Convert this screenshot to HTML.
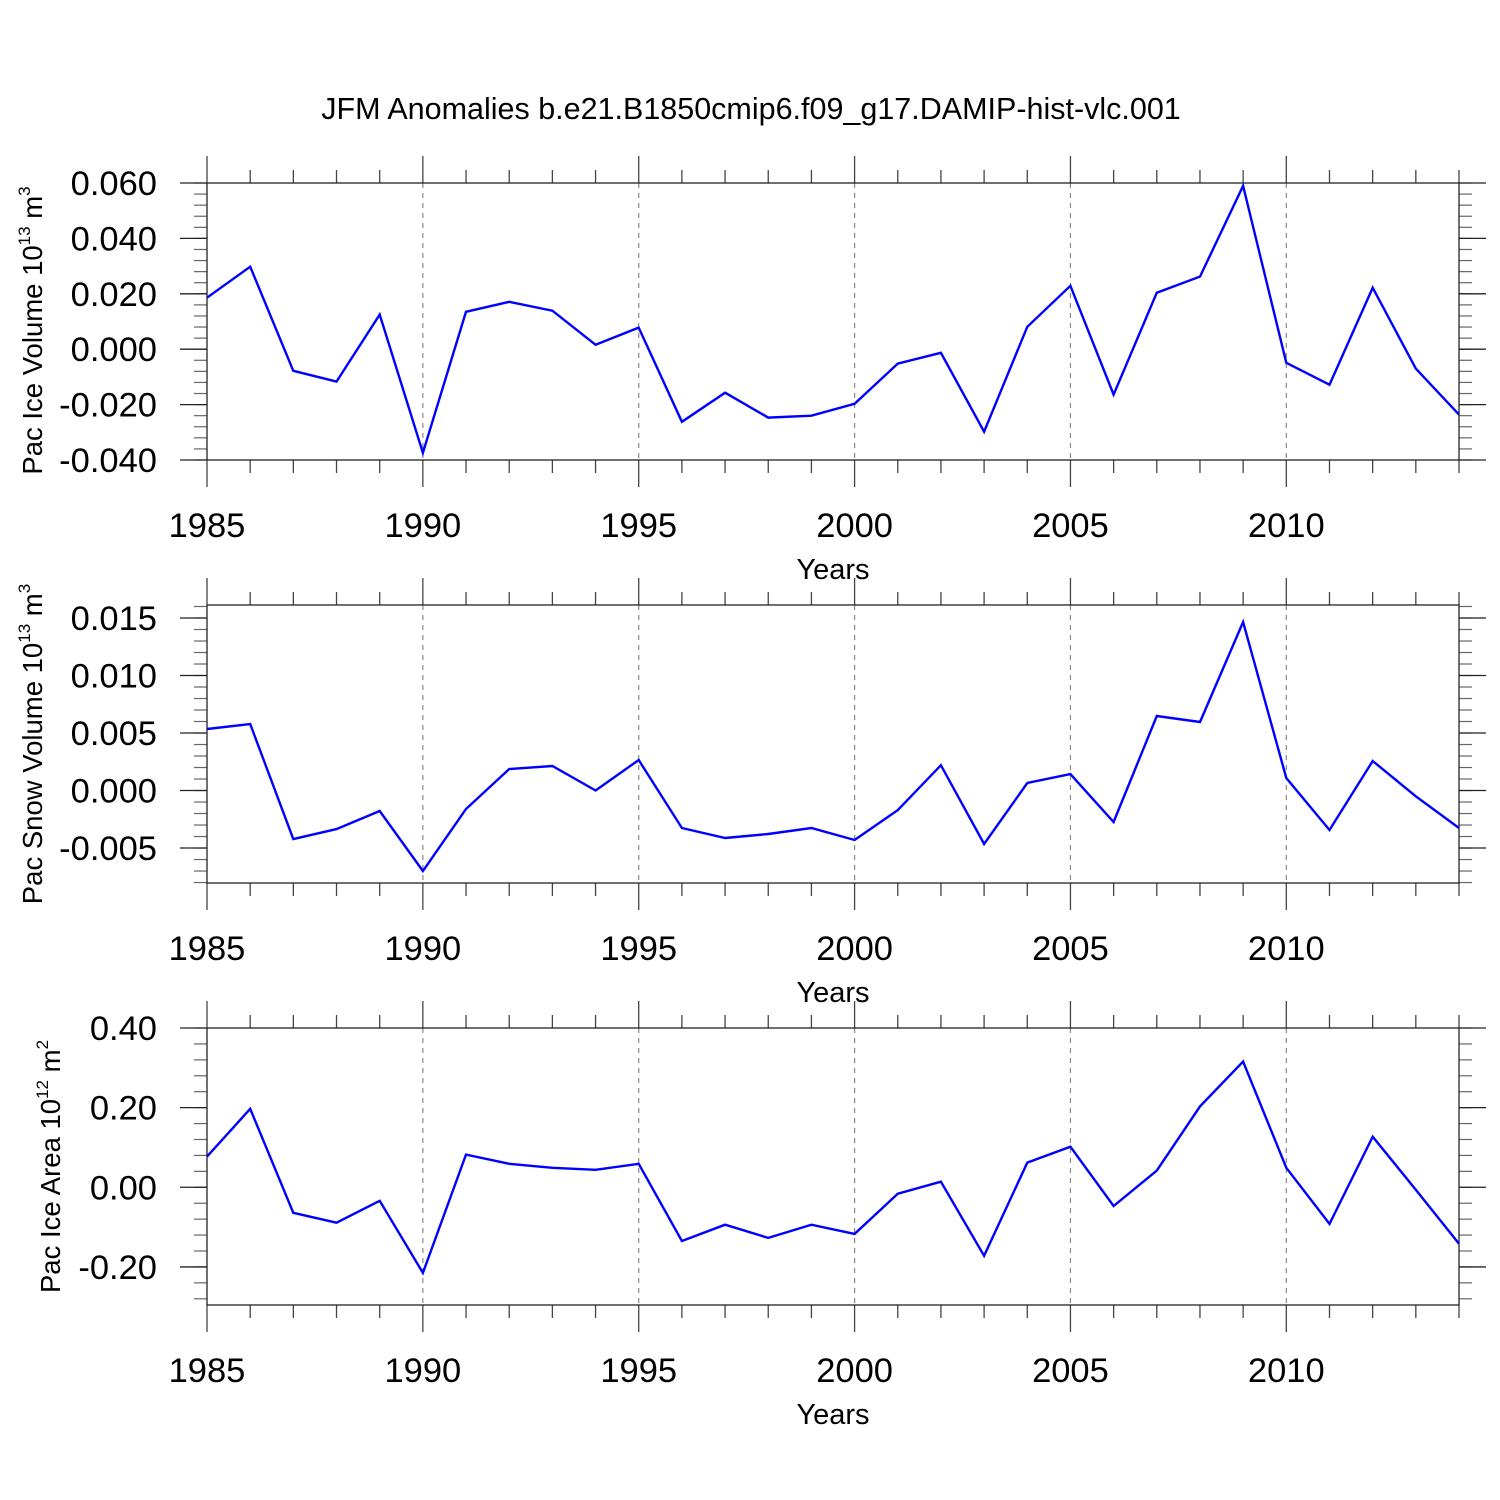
<!DOCTYPE html>
<html><head><meta charset="utf-8"><style>
html,body{margin:0;padding:0;background:#fff;}
svg{display:block;font-family:"Liberation Sans",Arial,sans-serif;}
</style></head><body>
<svg id="chart" width="1500" height="1500" viewBox="0 0 1500 1500">
<text x="751" y="119" font-size="30.5" text-anchor="middle">JFM Anomalies b.e21.B1850cmip6.f09_g17.DAMIP-hist-vlc.001</text>
</svg>
<script>
const years = [1985,1986,1987,1988,1989,1990,1991,1992,1993,1994,1995,1996,1997,1998,1999,2000,2001,2002,2003,2004,2005,2006,2007,2008,2009,2010,2011,2012,2013,2014];
const iceVolume = [0.0186,0.0298,-0.0078,-0.0117,0.0125,-0.0374,0.0135,0.0171,0.0139,0.0016,0.0078,-0.0262,-0.0157,-0.0247,-0.0240,-0.0197,-0.0052,-0.0013,-0.0298,0.0081,0.0229,-0.0164,0.0204,0.0262,0.0590,-0.0049,-0.0128,0.0222,-0.0070,-0.0236];
const snowVolume = [0.00535,0.00578,-0.00422,-0.00335,-0.00178,-0.0070,-0.00161,0.00187,0.00213,0.0000,0.00265,-0.00326,-0.00413,-0.00378,-0.00326,-0.0043,-0.0017,0.0022,-0.00465,0.00065,0.00143,-0.00274,0.00648,0.00596,0.01465,0.00109,-0.00343,0.00257,-0.0005,-0.00326];
const iceArea = [0.077,0.197,-0.064,-0.089,-0.034,-0.215,0.082,0.059,0.049,0.044,0.059,-0.135,-0.094,-0.127,-0.094,-0.117,-0.016,0.014,-0.172,0.062,0.102,-0.047,0.042,0.203,0.316,0.049,-0.092,0.127,-0.006,-0.142];
const xTicks = [1985,1990,1995,2000,2005,2010];
const iceVolTicks = [-0.04,-0.02,0,0.02,0.04,0.06];
const iceVolLabels = ["-0.040","-0.020","0.000","0.020","0.040","0.060"];
const snowTicks = [-0.005,0,0.005,0.010,0.015];
const snowLabels = ["-0.005","0.000","0.005","0.010","0.015"];
const areaTicks = [-0.2,0,0.2,0.4];
const areaLabels = ["-0.20","0.00","0.20","0.40"];

const NS="http://www.w3.org/2000/svg";
const svg=document.getElementById('chart');
function mk(tag,attrs,parent){const e=document.createElementNS(NS,tag);for(const k in attrs)e.setAttribute(k,attrs[k]);(parent||svg).appendChild(e);return e;}
const X0=207,X1=1459,XMIN=1985,XMAX=2014;
function xs(v){return X0+(v-XMIN)/(XMAX-XMIN)*(X1-X0);}

function panel(name,top,bot,ymin,ymax,ticks,labels,minorStep,data,titleParts){
  const g=mk('g',{});
  
  
  const ys=v=>bot-(v-ymin)/(ymax-ymin)*(bot-top);
  for(const t of xTicks.slice(1)){
    const l=mk('line',{x1:xs(t),x2:xs(t),y1:top,y2:bot,stroke:'#888','stroke-width':1.2,'stroke-dasharray':'5 5'},g);
    
    
  }
  for(let y=XMIN;y<=XMAX;y++){
    const major=(y%5===0);const len=major?27:13;
    mk('line',{x1:xs(y),x2:xs(y),y1:top-len,y2:top,stroke:'#444','stroke-width':1.3},g);
    mk('line',{x1:xs(y),x2:xs(y),y1:bot,y2:bot+len,stroke:'#444','stroke-width':1.3},g);
  }
  const start=Math.ceil(ymin/minorStep-1e-6);
  for(let i=start;i*minorStep<=ymax+1e-9;i++){
    const v=i*minorStep;const yy=ys(v);
    mk('line',{x1:X0-13,x2:X0,y1:yy,y2:yy,stroke:'#666','stroke-width':1.2},g);
    mk('line',{x1:X1,x2:X1+13,y1:yy,y2:yy,stroke:'#666','stroke-width':1.2},g);
  }
  ticks.forEach((t,i)=>{
    const yy=ys(t);
    mk('line',{x1:X0-27,x2:X0,y1:yy,y2:yy,stroke:'#222','stroke-width':1.3},g);
    mk('line',{x1:X1,x2:X1+27,y1:yy,y2:yy,stroke:'#222','stroke-width':1.3},g);
    const tx=mk('text',{x:157,y:yy+12,'font-size':34.5,'text-anchor':'end'},g);
    tx.textContent=labels[i];
    
    
  });
  xTicks.forEach(t=>{
    const tx=mk('text',{x:xs(t),y:bot+77,'font-size':34.5,'text-anchor':'middle'},g);
    tx.textContent=String(t);
    
    
  });
  const xt=mk('text',{x:833,y:bot+119,'font-size':29,'text-anchor':'middle'},g);
  xt.textContent='Years';
  
  
  const fr=mk('rect',{x:X0,y:top,width:X1-X0,height:bot-top,fill:'none',stroke:'#222','stroke-width':1.3},g);
  
  
  const pts=data.map((v,i)=>xs(years[i]).toFixed(1)+','+ys(v).toFixed(1)).join(' ');
  const pl=mk('polyline',{points:pts,fill:'none',stroke:'#0000ff','stroke-width':2.4,'stroke-linejoin':'miter'},g);
  
  
  const cy=(top+bot)/2+titleParts.dy;
  const yt=mk('text',{x:titleParts.x,y:cy,'font-size':27.5,'text-anchor':'middle',transform:'rotate(-90 '+titleParts.x+' '+cy+')'},g);
  
  
  yt.appendChild(document.createTextNode(titleParts.a+' 10'));
  const s1=mk('tspan',{dy:-12,'font-size':17},yt);s1.textContent=titleParts.e;
  const s2=mk('tspan',{dy:12,'font-size':27.5},yt);s2.textContent=' m';
  const s3=mk('tspan',{dy:-12,'font-size':17},yt);s3.textContent=titleParts.p;
}
panel('ice-volume',183,460,-0.04,0.06,iceVolTicks,iceVolLabels,0.004,iceVolume,{x:42,dy:9,a:'Pac Ice Volume',e:'13',p:'3'});
panel('snow-volume',605,883,-0.00804,0.01613,snowTicks,snowLabels,0.001,snowVolume,{x:42,dy:0,a:'Pac Snow Volume',e:'13',p:'3'});
panel('ice-area',1028,1305,-0.2956,0.40,areaTicks,areaLabels,0.04,iceArea,{x:60,dy:0,a:'Pac Ice Area',e:'12',p:'2'});
</script>
</body></html>
